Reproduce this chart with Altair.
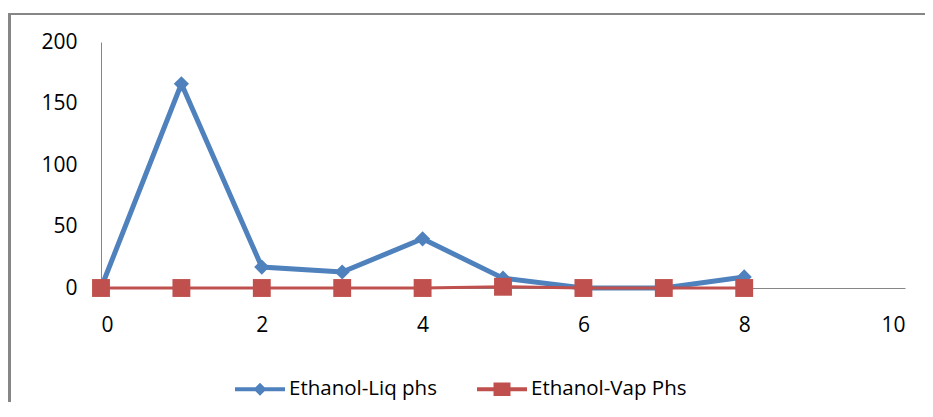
import altair as alt
import pandas as pd

# ---- data ----
x_vals = [0, 1, 2, 3, 4, 5, 6, 7, 8]
liq_vals = [0, 166, 17, 13, 40, 8, 0, 0, 9]
vap_vals = [0, 0, 0, 0, 0, 1, 0, 0, 0]
series_names = ["Ethanol-Liq phs", "Ethanol-Vap Phs"]
series_colors = ["#4F81BD", "#C0504D"]
x_ticks = [0, 2, 4, 6, 8, 10]
y_ticks = [0, 50, 100, 150, 200]

rows = []
for name, vals in zip(series_names, [liq_vals, vap_vals]):
    for xv, v in zip(x_vals, vals):
        rows.append({"x": xv, "value": v, "series": name})
df = pd.DataFrame(rows)

FONT = "Open Sans"
GRAY = "#868686"

x_enc = alt.X("x:Q", scale=alt.Scale(domain=[0, 10], nice=False, zero=False),
              axis=alt.Axis(values=x_ticks, title=None, grid=False, ticks=False,
                            domainColor=GRAY, domainWidth=1, labelPadding=26,
                            labelFont=FONT, labelFontSize=21, labelColor="#000000"))
y_enc = alt.Y("value:Q", scale=alt.Scale(domain=[0, 200], nice=False),
              axis=alt.Axis(values=y_ticks, title=None, grid=False, ticks=False,
                            domainColor=GRAY, domainWidth=1, labelPadding=24,
                            labelFont=FONT, labelFontSize=21, labelColor="#000000"))

base = alt.Chart(df).encode(x=x_enc, y=y_enc)

liq = base.transform_filter(alt.datum.series == series_names[0])
vap = base.transform_filter(alt.datum.series == series_names[1])

liq_line = liq.mark_line(color=series_colors[0], strokeWidth=5)
liq_pts = liq.mark_point(shape="diamond", filled=True, opacity=1,
                         color=series_colors[0], size=230)
vap_line = vap.mark_line(color=series_colors[1], strokeWidth=3)
vap_pts = vap.mark_point(shape="square", filled=True, opacity=1,
                         color=series_colors[1], size=320)

liq_sym = "M-1,-0.08H1V0.08H-1Z M0,-0.26L0.26,0L0,0.26L-0.26,0Z"
vap_sym = "M-1,-0.08H1V0.08H-1Z M-0.34,-0.27H0.34V0.27H-0.34Z"

legend_layer = base.transform_filter("false").mark_point(
    filled=True, opacity=1, size=2500
).encode(
    color=alt.Color("series:N", scale=alt.Scale(domain=series_names, range=series_colors),
                    legend=alt.Legend(title=None, orient="none", direction="horizontal",
                                      legendX=134, legendY=322,
                                      symbolSize=2500, symbolStrokeWidth=0,
                                      labelFont=FONT, labelFontSize=20.5,
                                      labelColor="#000000", labelOffset=4,
                                      columnPadding=40)),
    shape=alt.Shape("series:N", scale=alt.Scale(domain=series_names,
                                                range=[liq_sym, vap_sym])),
)

frame = alt.Chart(pd.DataFrame({"k": [0]}))
top_rule = frame.mark_rule(color=GRAY, strokeWidth=2).encode(
    x=alt.value(-93), x2=alt.value(824), y=alt.value(-28))
left_rule = frame.mark_rule(color=GRAY, strokeWidth=3).encode(
    x=alt.value(-91.5), y=alt.value(-29), y2=alt.value(360))

chart = alt.layer(
    top_rule, left_rule, liq_line, liq_pts, vap_line, vap_pts, legend_layer
).properties(
    width=804, height=246,
    autosize=alt.AutoSizeParams(type="none"),
    padding={"left": 93, "top": 34, "right": 20, "bottom": 121},
).configure_view(stroke=None)

chart.save("out.html", embed_options={"renderer": "svg", "actions": False})
